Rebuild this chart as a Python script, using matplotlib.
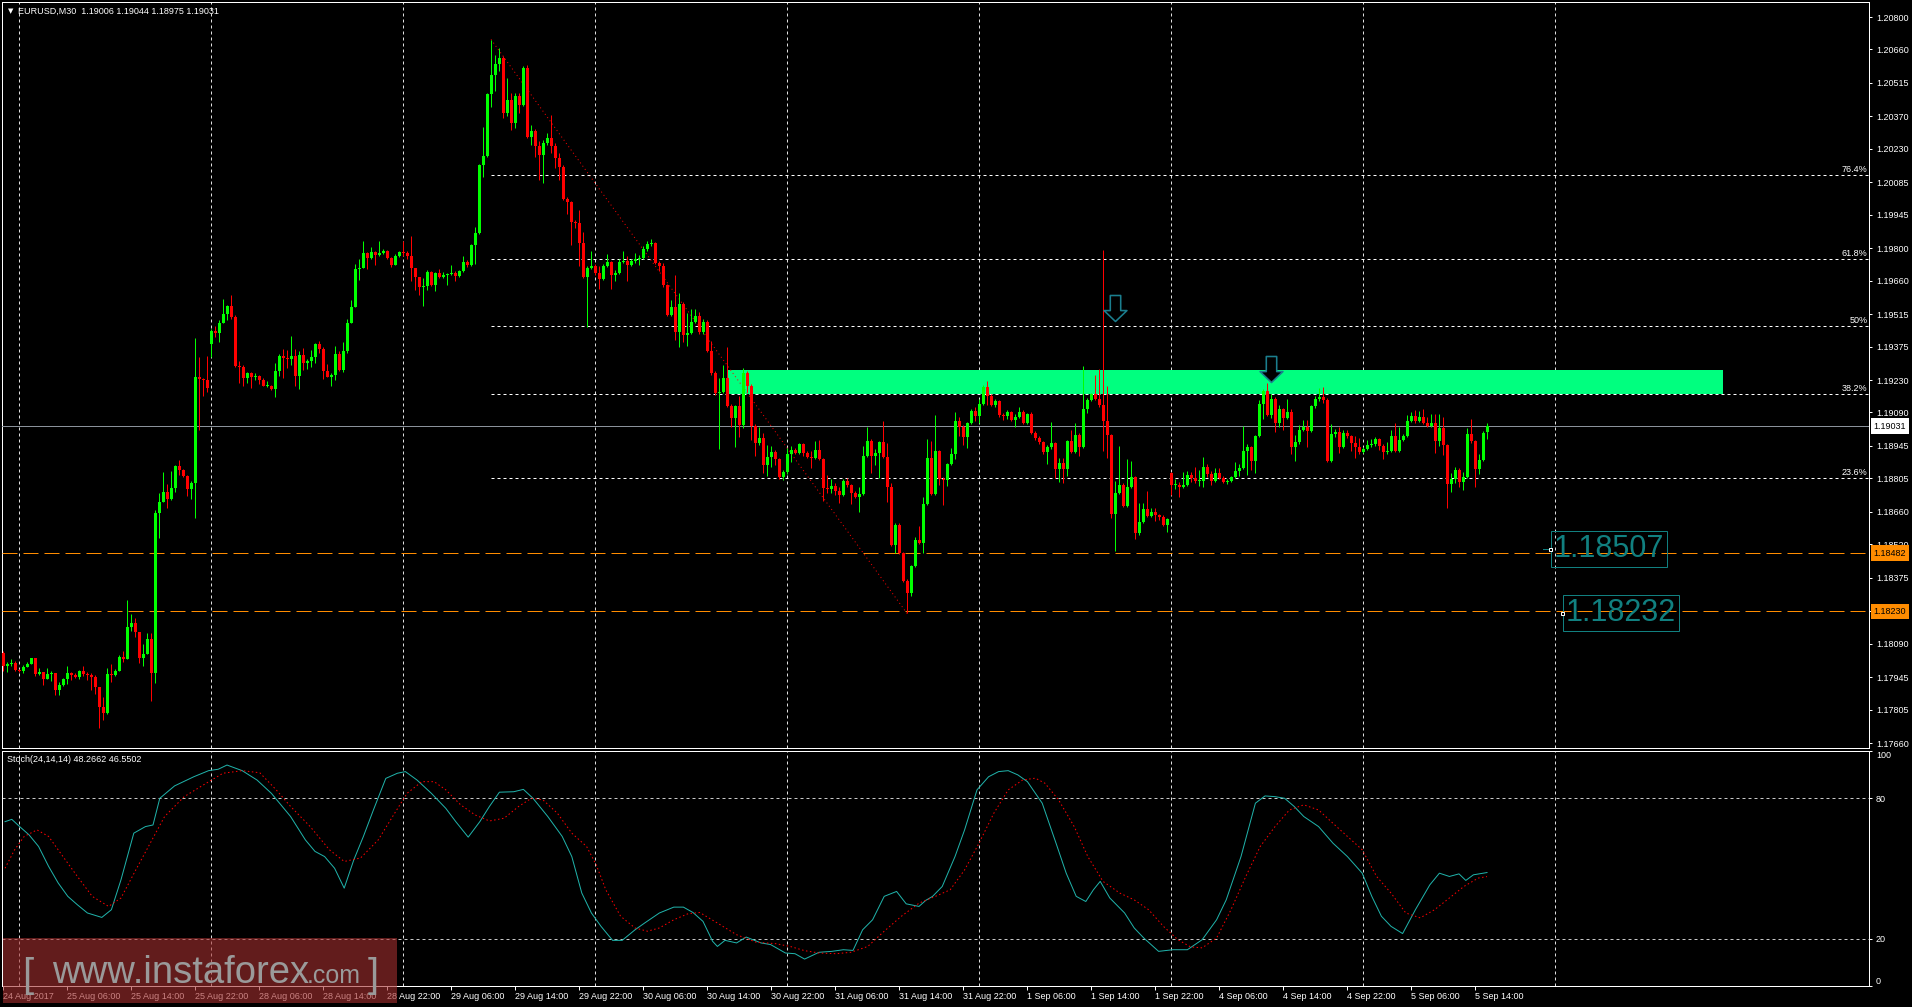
import numpy as np
import matplotlib
matplotlib.use("Agg")
import matplotlib.pyplot as plt
from matplotlib.patches import Rectangle
from matplotlib.path import Path
from matplotlib.transforms import blended_transform_factory

plt.rcParams['font.family'] = ['Liberation Sans', 'DejaVu Sans']
plt.rcParams['lines.scale_dashes'] = False

W, H = 1912, 1007
PX = 0.72  # points per pixel at dpi 100

# ---------------- data: EURUSD M30, bars from 24 Aug 22:00 ----------------
first_open = 1.18050
gap_opens = {52: 1.19386, 292: 1.18828, 371: 1.19006}

closes = [
    1.17994, 1.18002, 1.18007, 1.17976, 1.17972, 1.17989, 1.18002, 1.18028, 1.17959, 1.17968,
    1.17937, 1.17959, 1.17963, 1.17890, 1.17911, 1.17937, 1.17963, 1.17955, 1.17946, 1.17972,
    1.17959, 1.17955, 1.17946, 1.17903, 1.17816, 1.17790, 1.17959, 1.17955, 1.17972, 1.18033,
    1.18024, 1.18162, 1.18180, 1.18141, 1.18028, 1.18045, 1.18110, 1.17963, 1.18655, 1.18703,
    1.18746, 1.18716, 1.18763, 1.18859, 1.18841, 1.18815, 1.18759, 1.18785, 1.19244, 1.19235,
    1.19231, 1.19196, 1.19442, 1.19434, 1.19477, 1.19516, 1.19551, 1.19503, 1.19291, 1.19287,
    1.19239, 1.19261, 1.19244, 1.19248, 1.19231, 1.19205, 1.19205, 1.19192, 1.19269, 1.19334,
    1.19326, 1.19321, 1.19334, 1.19248, 1.19339, 1.19304, 1.19313, 1.19330, 1.19386, 1.19365,
    1.19269, 1.19244, 1.19252, 1.19343, 1.19274, 1.19356, 1.19477, 1.19546, 1.19711, 1.19715,
    1.19780, 1.19758, 1.19784, 1.19771, 1.19780, 1.19788, 1.19758, 1.19728, 1.19767, 1.19784,
    1.19780, 1.19767, 1.19715, 1.19676, 1.19633, 1.19637, 1.19698, 1.19641, 1.19693, 1.19676,
    1.19685, 1.19689, 1.19693, 1.19680, 1.19702, 1.19741, 1.19728, 1.19814, 1.19866, 1.20160,
    1.20199, 1.20467, 1.20550, 1.20597, 1.20623, 1.20385, 1.20441, 1.20342, 1.20459, 1.20420,
    1.20580, 1.20281, 1.20307, 1.20243, 1.20204, 1.20255, 1.20277, 1.20243, 1.20191, 1.20152,
    1.20013, 1.20000, 1.19914, 1.19909, 1.19823, 1.19676, 1.19715, 1.19724, 1.19693, 1.19667,
    1.19724, 1.19741, 1.19685, 1.19693, 1.19741, 1.19745, 1.19728, 1.19745, 1.19754, 1.19758,
    1.19797, 1.19819, 1.19823, 1.19737, 1.19724, 1.19641, 1.19512, 1.19546, 1.19438, 1.19559,
    1.19425, 1.19434, 1.19481, 1.19507, 1.19438, 1.19481, 1.19356, 1.19261, 1.19174, 1.19179,
    1.19239, 1.19118, 1.19066, 1.19118, 1.19036, 1.19261, 1.19205, 1.19032, 1.18958, 1.18980,
    1.18863, 1.18898, 1.18919, 1.18889, 1.18811, 1.18833, 1.18910, 1.18928, 1.18915, 1.18954,
    1.18915, 1.18898, 1.18893, 1.18928, 1.18889, 1.18763, 1.18759, 1.18772, 1.18750, 1.18733,
    1.18794, 1.18776, 1.18742, 1.18725, 1.18737, 1.18902, 1.18967, 1.18902, 1.18915, 1.18962,
    1.18898, 1.18768, 1.18517, 1.18603, 1.18482, 1.18361, 1.18309, 1.18426, 1.18539, 1.18526,
    1.18694, 1.18893, 1.18737, 1.18923, 1.18802, 1.18798, 1.18867, 1.18910, 1.19053, 1.19027,
    1.18984, 1.19045, 1.19096, 1.19075, 1.19127, 1.19200, 1.19161, 1.19122, 1.19140, 1.19079,
    1.19075, 1.19092, 1.19058, 1.19071, 1.19092, 1.19045, 1.19083, 1.19001, 1.18980, 1.18962,
    1.18919, 1.18941, 1.18958, 1.18846, 1.18872, 1.18846, 1.18967, 1.18919, 1.18993, 1.18941,
    1.19105, 1.19144, 1.19170, 1.19148, 1.19122, 1.19053, 1.18993, 1.18651, 1.18742, 1.18776,
    1.18686, 1.18768, 1.18811, 1.18569, 1.18616, 1.18673, 1.18642, 1.18660, 1.18647, 1.18638,
    1.18603, 1.18629, 1.18776, 1.18776, 1.18768, 1.18776, 1.18820, 1.18807, 1.18794, 1.18794,
    1.18854, 1.18824, 1.18794, 1.18828, 1.18807, 1.18789, 1.18794, 1.18811, 1.18837, 1.18850,
    1.18923, 1.18941, 1.18880, 1.18988, 1.19127, 1.19183, 1.19079, 1.19148, 1.19045, 1.19105,
    1.19066, 1.19092, 1.18941, 1.18962, 1.19014, 1.19027, 1.19010, 1.19118, 1.19148, 1.19157,
    1.19144, 1.18880, 1.18997, 1.19006, 1.18941, 1.19001, 1.18988, 1.18958, 1.18941, 1.18919,
    1.18932, 1.18949, 1.18954, 1.18975, 1.18945, 1.18919, 1.18923, 1.18988, 1.18923, 1.18971,
    1.18988, 1.19053, 1.19075, 1.19053, 1.19071, 1.19045, 1.19032, 1.19045, 1.18967, 1.19023,
    1.18949, 1.18781, 1.18802, 1.18841, 1.18789, 1.18811, 1.18997, 1.18967, 1.18846, 1.18885,
    1.19001, 1.19031,
]

# wick lengths in pips above / below the body
up_wick = [
    1, 1, 1.5, 1, 0.5, 1, 1, 0, 0, 1.5, 0, 2.5, 1, 0, 1.5, 0.3, 3, 0.5, 1, 0.5,
    2, 1, 0.7, 1, 0, 4.5, 2.5, 4.5, 1, 0.7, 2.5, 11.5, 4, 2, 0, 4.5, 2.5, 2.5, 1.5, 4,
    8.5, 3.5, 7.5, 0.5, 2.5, 0.5, 0.5, 1, 17, 8.5, 0.5, 10.5, 1, 2, 1.5, 6.5, 0.5, 4.5, 0.7, 2,
    0.7, 0.5, 0.5, 1.3, 0.5, 1, 2, 0.5, 3.3, 1, 3, 3.3, 8.5, 3, 1.5, 3, 1, 3, 0.3, 1.3,
    1, 3, 1, 3.5, 1.3, 4, 1.7, 3, 2, 4, 5.3, 0.3, 2, 0.5, 5, 0.7, 0.5, 0.3, 0.7, 0.3,
    4.6, 0.7, 8.6, 0, 0, 3.3, 0.7, 0.3, 0.3, 1.7, 1.2, 0.3, 3.6, 1, 0.5, 2.5, 0.7, 0.3, 2.6, 0.3,
    12.7, 0.3, 15, 3.9, 4.3, 0.7, 9.4, 2.9, 1.2, 1.4, 0.7, 1.2, 2.7, 1, 2.2, 1.2, 2.3, 10, 1.4, 2.2,
    0.7, 0.7, 0.3, 0.7, 5.5, 4.6, 0.7, 6.6, 0.6, 3.2, 1, 3.6, 0.6, 1.4, 1.2, 4.3, 2, 1, 2.5, 1.4,
    1.2, 1.2, 1.7, 0.3, 0.6, 1.2, 0.4, 3.2, 13.7, 4.9, 1, 8.4, 5.8, 2.9, 1.9, 1.3, 1, 4.3, 0.7, 6.2,
    5.5, 13.4, 0.7, 0.4, 4.3, 2.2, 0.7, 0.7, 0.7, 4.6, 2.3, 5.3, 2.4, 0.7, 0.4, 1, 2.7, 1.7, 0.7, 0.6,
    0.3, 0.7, 2.6, 3.9, 4.3, 0.4, 5.5, 2.9, 1.2, 1.6, 1, 1.4, 0.6, 0.7, 3.2, 4.3, 5.9, 0.7, 1.9, 0.6,
    9, 6, 1.7, 0.7, 1, 0.4, 1, 0.4, 1.4, 6, 3.2, 8.2, 7.2, 15.4, 0.6, 0.7, 0.6, 2.5, 4, 1.9,
    0.9, 0.4, 0.7, 1.9, 2, 1, 2.7, 0.7, 0.7, 0.4, 0.7, 0.7, 0.4, 1.2, 2.2, 0.7, 0.6, 0.7, 0.7, 0.7,
    0.6, 0.7, 9, 0.4, 1.9, 1.9, 0.3, 4.6, 5.3, 0.7, 18.6, 0.7, 0.6, 8, 13, 67, 15, 0.6, 5.2, 17,
    0.7, 12, 6.8, 0.3, 8.2, 2.4, 7.8, 1.9, 1.9, 0.6, 0.7, 0.4, 0.4, 2.6, 1.2, 5.8, 1.9, 1.4, 4.8, 4.6,
    4.2, 1.4, 1.4, 2.3, 2, 0.7, 0.7, 0.3, 4, 1.9, 10.8, 1.4, 0.6, 0.4, 1.7, 1, 3.6, 2.2, 0.7, 1.7,
    0.4, 5.5, 1.2, 3.2, 2.2, 3.2, 3.2, 0.4, 1.2, 3.9, 4.2, 0.7, 4.3, 1.3, 2.2, 1.4, 1.4, 0.4, 3, 3.7,
    0.9, 2.3, 2, 0.7, 0.3, 0.7, 4, 2.7, 5.5, 5.5, 0.9, 2.6, 1.9, 2.6, 2.4, 3.5, 2.6, 3.7, 3.7, 6.2,
    4.8, 0.3, 2.6, 1.2, 0.7, 2.2, 2.4, 6.5, 0.3, 2.6, 0.7, 1.3,
]
dn_wick = [
    2, 2.5, 1, 0.3, 0.5, 1, 0, 0, 1, 0.5, 2.5, 0, 3, 2, 2, 0.5, 2, 2, 0.3, 1,
    1, 2, 5.5, 3, 9, 3, 0.3, 3, 0.5, 0, 1.3, 0, 1.5, 2, 2, 3.5, 0, 12, 4.5, 11,
    0, 4, 0.3, 1.5, 2, 0.3, 3, 4.5, 15, 22, 7, 1.7, 5.5, 1.7, 4, 0, 2.5, 1, 0.5, 7,
    3.3, 2, 5, 1.5, 2, 0, 0.5, 0.3, 3.5, 2, 8.5, 4, 2.5, 4.3, 5.7, 3, 2.5, 2.5, 2.5, 1.7,
    3.5, 0, 4, 2, 0.5, 0.7, 0.7, 0, 0, 5, 0, 4.6, 0.3, 4.5, 0.3, 0.5, 0.5, 0.7, 0, 0.3,
    1.5, 1.5, 5.6, 5.8, 3.6, 8.4, 1.7, 0.5, 2.5, 0.5, 0.5, 4.3, 0.3, 2.2, 0.5, 0.5, 0.7, 0.3, 8.3, 0.3,
    5.3, 0.3, 5.6, 7.2, 2.9, 2, 1.4, 3.2, 2.2, 3.6, 0.4, 0.3, 3.6, 4.8, 11, 12, 0.7, 2.9, 4.6, 5.5,
    0.6, 5, 10, 2.2, 10, 0.3, 21.6, 0.3, 1, 4.5, 0.4, 0.3, 6.2, 2.5, 0.4, 0.4, 6.8, 0.4, 0.7, 2.5,
    0.4, 0.7, 0.7, 0.7, 2.2, 0.7, 0.7, 0.7, 3.6, 6.5, 2.9, 4.8, 0.4, 0.4, 1, 0.7, 0.6, 1, 0.7, 24,
    0.3, 0.3, 3.9, 12.5, 5, 1.4, 2.6, 5.9, 5.8, 1, 3.6, 4.8, 4.6, 2.6, 0.7, 1.2, 0.7, 3.3, 0.6, 0.3,
    1.4, 0.7, 4.2, 0.4, 0.3, 5.6, 1.7, 1.9, 1.9, 3.6, 0.4, 0.7, 4.6, 0.4, 6.6, 0.4, 0.4, 7.2, 3.9, 11,
    0.4, 6.6, 0.4, 3.6, 0.6, 0.4, 8.6, 1.4, 0.3, 0.3, 4.3, 0.4, 0.4, 0.4, 2.5, 10.8, 2.5, 0.4, 2.3, 4,
    3.3, 4.6, 0.7, 2.2, 2.9, 0.4, 4, 0.4, 0.7, 0.7, 1.6, 1.4, 0.3, 3.2, 0.7, 0.7, 0.7, 0.3, 0.7, 0.7,
    0.7, 5, 1, 3.9, 5.8, 6.3, 2.9, 0.4, 0.4, 4, 0.3, 1.7, 0.4, 0.4, 0.7, 13, 10, 1.9, 16, 0.3,
    0.6, 0.6, 0.4, 2.6, 0.7, 0.3, 0.4, 0.4, 2.5, 1.2, 0.4, 2.9, 4.3, 1.6, 4.3, 0.3, 0.4, 1.7, 0.7, 2.3,
    2.6, 1.2, 1.9, 0.4, 0.4, 0.4, 0.7, 0.4, 0.4, 2.2, 0.6, 10.4, 4, 5, 0.4, 6.5, 0.4, 1.2, 4, 1.7,
    5, 0.3, 2.9, 6, 0.7, 0.4, 7, 0.4, 0.7, 0.7, 1.4, 0.4, 0.4, 1.4, 2.6, 0.4, 1, 3.6, 5, 0.7,
    0.3, 0.3, 1, 0.9, 1.7, 2.9, 0.7, 0.4, 0.4, 0.4, 0.4, 0.4, 0.4, 0.7, 0.4, 0.6, 0.6, 0.6, 5.3, 2.2,
    4.3, 10.5, 3.7, 1.7, 2.2, 3.6, 0.4, 0.9, 7.8, 2, 0.3, 3.1,
]

# Stoch(24,14,14): %K main line and %D signal line (bar index, value)
k_bar = [0.5, 2.2, 4.1, 6.5, 8.9, 11.4, 13.8, 16.2, 18.6, 21.1, 24.7, 27.1, 29.5, 32.7, 35.6, 37.5,
         39.2, 42.9, 47.7, 51.4, 53.8, 56.0, 59.8, 63.5, 67.1, 71.9, 75.6, 78.0, 80.4, 82.9, 85.3,
         87.7, 90.1, 92.6, 95.7, 98.6, 100.6, 103.5, 107.1, 110.7, 113.2, 116.3, 119.2, 121.6, 124.1,
         127.7, 130.1, 132.5, 136.2, 139.8, 142.2, 144.7, 147.1, 149.5, 152.4, 154.8, 158.0, 160.4,
         164.1, 167.7, 170.1, 172.5, 175.0, 177.4, 178.6, 180.5, 183.4, 185.8, 189.5, 191.9, 195.6,
         198.0, 200.4, 204.0, 207.2, 210.1, 212.5, 214.9, 217.4, 220.3, 223.4, 225.8, 229.0, 230.7,
         232.4, 234.8, 238.0, 240.4, 243.5, 246.4, 248.9, 251.3, 253.7, 256.1, 259.8, 263.4, 265.8,
         268.3, 270.7, 272.6, 274.3, 276.7, 280.4, 282.8, 285.2, 288.9, 292.5, 296.1, 299.8, 303.4,
         305.8, 309.5, 313.1, 315.5, 318.0, 320.4, 322.8, 325.2, 328.9, 332.5, 336.1, 339.8, 342.2,
         344.6, 347.0, 349.9, 353.1, 356.7, 359.1, 361.6, 364.0, 365.7, 367.6, 371.0]
k_val = [70.0, 71.0, 68.0, 64.4, 59.4, 50.9, 43.8, 38.1, 34.5, 31.0, 29.1, 32.4, 45.2, 65.1, 67.9, 68.6,
         80.0, 85.3, 89.2, 91.8, 92.4, 94.2, 91.8, 87.8, 82.1, 72.2, 62.2, 57.3, 55.1, 50.1, 41.6,
         53.7, 63.7, 75.0, 88.5, 90.7, 91.4, 87.8, 82.1, 75.7, 70.0, 63.4, 70.0, 76.5, 82.6,
         82.8, 83.8, 80.0, 72.2, 63.7, 55.1, 39.5, 31.0, 25.3, 19.3, 19.3, 23.8, 26.7,
         31.0, 33.5, 33.5, 31.2, 27.4, 18.9, 16.7, 19.3, 18.2, 20.7, 18.2, 17.5, 13.9,
         13.6, 11.3, 14.2, 14.6, 15.3, 15.0, 23.8, 28.1, 38.1, 40.2, 34.9, 33.8, 36.4,
         38.1, 42.3, 55.1, 66.5, 83.6, 89.2, 91.4, 91.8, 90.0, 87.1, 77.9, 60.1, 48.0,
         38.1, 35.9, 40.9, 44.5, 37.4, 31.0, 24.6, 20.3, 14.6, 15.3, 15.3, 19.6, 28.1,
         36.6, 55.1, 77.9, 81.0, 80.7, 80.0, 76.5, 72.2, 67.9, 60.8, 55.1, 48.0, 38.1,
         29.6, 25.3, 22.2, 32.4, 43.0, 48.0, 46.6, 47.7, 44.9, 47.3, 48.27]
d_bar = [0.5, 2.9, 5.3, 8.5, 11.4, 15.0, 18.6, 22.3, 26.4, 29.5, 33.2, 36.8, 40.4, 45.3, 50.1, 55.0,
         59.8, 64.2, 68.3, 71.9, 76.8, 81.6, 85.3, 89.4, 93.8, 97.4, 101.0, 104.7, 107.8, 110.7, 114.4,
         118.0, 121.6, 125.3, 128.9, 132.1, 135.0, 138.6, 142.2, 145.9, 148.3, 150.7, 154.4, 158.0,
         161.1, 164.1, 167.7, 171.3, 174.2, 178.6, 183.4, 188.3, 193.1, 196.8, 200.4, 204.0, 208.2,
         212.0, 216.2, 220.3, 224.6, 229.0, 233.1, 236.8, 240.4, 244.0, 247.7, 251.3, 254.9, 258.1,
         260.5, 263.9, 267.8, 271.2, 275.0, 279.2, 282.8, 286.4, 290.1, 293.7, 296.9, 299.8, 303.4,
         307.0, 310.7, 314.3, 318.0, 321.6, 325.2, 328.9, 332.5, 336.1, 339.8, 343.4, 347.0, 350.7,
         354.3, 357.9, 361.6, 365.2, 368.8, 371.0]
d_val = [50.1, 58.0, 63.7, 66.5, 63.7, 55.1, 46.6, 38.1, 33.8, 37.4, 49.4, 60.8, 72.2, 80.7, 85.7, 90.7,
         91.8, 90.9, 83.6, 76.5, 67.9, 58.0, 53.0, 54.5, 62.2, 72.2, 82.1, 87.1, 87.1, 83.6, 77.2,
         72.9, 70.3, 71.5, 76.5, 80.0, 79.3, 73.6, 65.1, 59.4, 51.6, 40.9, 29.6, 24.6,
         23.2, 24.6, 28.1, 30.7, 31.2, 26.7, 21.7, 18.5, 17.9, 16.7, 14.9, 13.9, 13.6,
         14.2, 16.7, 23.2, 29.6, 35.2, 38.1, 40.9, 49.4, 60.8, 73.6, 83.6, 87.8, 88.6,
         86.4, 79.3, 67.9, 55.1, 44.5, 39.5, 36.6, 32.4, 25.3, 19.6, 16.5, 16.1, 20.3,
         32.4, 46.6, 59.4, 67.9, 75.0, 77.2, 75.0, 69.3, 63.7, 58.0, 46.6, 39.5, 31.0,
         28.9, 32.4, 37.4, 42.3, 45.9, 46.55]

price_ticks = [1.20800, 1.20660, 1.20515, 1.20370, 1.20230, 1.20085, 1.19945, 1.19800, 1.19660,
               1.19515, 1.19375, 1.19230, 1.19090, 1.18945, 1.18805, 1.18660, 1.18520, 1.18375,
               1.18230, 1.18090, 1.17945, 1.17805, 1.17660]
time_tick_bars = list(range(0, 369, 16))
time_tick_labels = ['24 Aug 2017', '25 Aug 06:00', '25 Aug 14:00', '25 Aug 22:00', '28 Aug 06:00',
                    '28 Aug 14:00', '28 Aug 22:00', '29 Aug 06:00', '29 Aug 14:00', '29 Aug 22:00',
                    '30 Aug 06:00', '30 Aug 14:00', '30 Aug 22:00', '31 Aug 06:00', '31 Aug 14:00',
                    '31 Aug 22:00', '1 Sep 06:00', '1 Sep 14:00', '1 Sep 22:00', '4 Sep 06:00',
                    '4 Sep 14:00', '4 Sep 22:00', '5 Sep 06:00', '5 Sep 14:00']
day_start_bars = [4, 52, 100, 148, 196, 244, 292, 340, 388]

fib_start, fib_end = (122, 1.20703), (226, 1.18221)
fib_levels = [0.236, 0.382, 0.5, 0.618, 0.764]
fib_names = ['23.6%', '38.2%', '50%', '61.8%', '76.4%']
current_price = 1.19031
support_levels = [1.18482, 1.18230]
zone_bars, zone_prices = (181.25, 430), (1.19169, 1.19274)
arrow_bars, arrow_prices = [277.9, 317.0], [1.19542, 1.19276]
label_bars = [387.7, 390.7]
label_prices = [1.18500, 1.18223]
label_texts = ['1.18507', '1.18232']

# ---------------- figure ----------------
def dash(on, off):
    return (0, (on * PX, off * PX))

def px_box(top, bottom, left=2, right=1869):
    return [left / W, 1 - bottom / H, (right - left) / W, (bottom - top) / H]

fig = plt.figure(figsize=(W / 100, H / 100), dpi=100, facecolor='black')
ax = fig.add_axes(px_box(2, 748))
ax2 = fig.add_axes(px_box(751, 986))

for a in (ax, ax2):
    a.set_facecolor('black')
    for s in a.spines.values():
        s.set_color('white')
        s.set_linewidth(PX)
    a.set_xlim(-0.25, 466.5)
    for b in day_start_bars:
        a.axvline(b, color='#e0e0e0', lw=PX, ls=dash(3, 3), zorder=1)

ax.set_ylim(1.17639, 1.20865)

# candles
n = len(closes)
idx = np.arange(n)
c = np.array(closes)
o = np.concatenate([[first_open], c[:-1]])
for k, v in gap_opens.items():
    o[k] = v
hi = np.maximum(o, c) + np.array(up_wick) * 1e-4
lo = np.minimum(o, c) - np.array(dn_wick) * 1e-4
col = np.where(c >= o, '#00ff00', '#ff0000')
ax.vlines(idx, lo, hi, colors=col, lw=PX, zorder=4)
body = np.maximum(np.abs(c - o), 0.00004)
ax.bar(idx, body, 0.75, bottom=np.minimum(o, c), color=col, linewidth=0, zorder=5)

# resistance zone
ax.add_patch(Rectangle((zone_bars[0], zone_prices[0]), zone_bars[1] - zone_bars[0],
                       zone_prices[1] - zone_prices[0], color='#00ff7f', lw=0, zorder=2))

# fibonacci
ax.plot([fib_start[0], fib_end[0]], [fib_start[1], fib_end[1]], color='#ff0000', lw=PX,
        ls=dash(1, 3), zorder=3)
for lev, name in zip(fib_levels, fib_names):
    p = fib_end[1] + lev * (fib_start[1] - fib_end[1])
    ax.plot([fib_start[0], 466.5], [p, p], color='white', lw=PX, ls=dash(3, 3), zorder=3)
    ax.text(466.1, p + 0.00005, name, color='white', fontsize=6.5, ha='right', va='bottom', zorder=6)

# horizontal lines
ax.axhline(current_price, color='#8a919a', lw=PX, zorder=3)
for p in support_levels:
    ax.axhline(p, color='#ff8c00', lw=PX, ls=dash(15, 6), zorder=3)

# arrows
arrow = Path([(-0.2, 0.5), (0.2, 0.5), (0.2, -0.08), (0.44, -0.08), (0, -0.5),
              (-0.44, -0.08), (-0.2, -0.08), (-0.2, 0.5)],
             [Path.MOVETO] + [Path.LINETO] * 6 + [Path.CLOSEPOLY])
ax.plot(arrow_bars, arrow_prices, ls='none', marker=arrow, markersize=26 * PX,
        markerfacecolor='black', markeredgecolor='#1b7e8e', markeredgewidth=1.6 * PX, zorder=7)

# price labels
teal = '#118080'
ax.plot([385.0, 386.7], [label_prices[0]] * 2, color=teal, lw=PX, zorder=7)
ax.plot([label_bars[0] - 0.9, label_bars[1] - 0.9], label_prices, ls='none', marker='s',
        markersize=3 * PX, markerfacecolor='black', markeredgecolor='white', markeredgewidth=PX, zorder=8)
for b, p, t in zip(label_bars, label_prices, label_texts):
    ax.text(b, p, t, color=teal, fontsize=22, ha='left', va='center', zorder=7,
            bbox=dict(boxstyle='square,pad=0.1', fc='none', ec=teal, lw=PX))

# right price axis
ax.yaxis.tick_right()
ax.set_yticks(price_ticks)
ax.set_yticklabels([f'{v:.5f}' for v in price_ticks])
ax.tick_params(axis='y', colors='white', length=3 * PX, width=PX, pad=4 * PX, labelsize=6.5)
ax.tick_params(axis='x', bottom=False, labelbottom=False)

tr = blended_transform_factory(ax.transAxes, ax.transData)
for p, fc in [(current_price, 'white')] + [(s, '#ff8c00') for s in support_levels]:
    ax.text(1.0025, p, f'{p:.5f}', transform=tr, color='black', fontsize=6.5, ha='left',
            va='center', clip_on=False, zorder=9,
            bbox=dict(boxstyle='square,pad=0.35', fc=fc, ec='none'))

# stochastic panel
ax2.set_ylim(-0.2, 100.2)
for lvl in (20, 80):
    ax2.axhline(lvl, color='#c8c8c8', lw=PX, ls=dash(3, 3), zorder=1)
ax2.plot(k_bar, k_val, color='#20b2aa', lw=PX, zorder=3)
ax2.plot(d_bar, d_val, color='#ff0000', lw=PX, ls=dash(1.5, 2.5), zorder=3)
ax2.yaxis.tick_right()
ax2.set_yticks([0, 20, 80, 100])
ax2.set_yticklabels(['0', '20', '80', '100'])
ax2.tick_params(axis='y', colors='white', length=3 * PX, width=PX, pad=4 * PX, labelsize=6.5)
ylab = ax2.get_yticklabels()
ylab[0].set_va('bottom')
ylab[3].set_va('top')
ax2.set_xticks(time_tick_bars)
ax2.set_xticklabels(time_tick_labels)
ax2.tick_params(axis='x', colors='white', length=4 * PX, width=PX, pad=2 * PX, labelsize=6.5)
for lb in ax2.get_xticklabels():
    lb.set_ha('left')

# header texts
fig.text(8 / W, 1 - 11 / H, '\u25bc', color='white', fontsize=5, va='center', family='DejaVu Sans')
fig.text(18 / W, 1 - 11 / H, 'EURUSD,M30  1.19006 1.19044 1.18975 1.19031', color='white',
         fontsize=6.5, va='center')
fig.text(7 / W, 1 - 759 / H, 'Stoch(24,14,14) 48.2662 46.5502', color='white', fontsize=6.5,
         va='center')

# watermark
fig.add_artist(Rectangle((3 / W, 1 - 1003 / H), 394 / W, 65 / H, transform=fig.transFigure,
                         color='#a52f2f', alpha=0.6, lw=0, zorder=10))
wm = '#9a9a9a'
fig.text(22 / W, 1 - 987 / H, '[', color=wm, fontsize=29, va='baseline', zorder=11)
fig.text(52 / W, 1 - 983 / H, 'www.instaforex', color=wm, fontsize=27.5, va='baseline', zorder=11)
fig.text(307 / W, 1 - 983 / H, '.com', color=wm, fontsize=18, va='baseline', zorder=11)
fig.text(368 / W, 1 - 987 / H, ']', color=wm, fontsize=29, va='baseline', zorder=11)

fig.savefig('out.png', dpi=100, facecolor='black')
